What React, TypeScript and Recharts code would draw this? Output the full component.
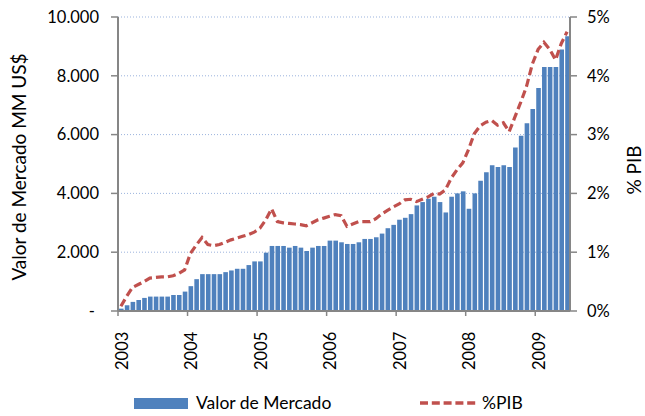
import React from 'react';
import { ComposedChart, Bar, Line, XAxis, YAxis, CartesianGrid, Legend } from 'recharts';

const years = ['2003', '2004', '2005', '2006', '2007', '2008', '2009'];
const monthNames = ['01', '02', '03', '04', '05', '06', '07', '08', '09', '10', '11', '12'];

const valorMercado = [
  // 2003
  80, 195, 310, 375, 445, 490, 490, 490, 490, 545, 545, 660,
  // 2004
  845, 1083, 1254, 1254, 1254, 1254, 1322, 1379, 1436, 1436, 1562, 1687,
  // 2005
  1687, 1984, 2212, 2212, 2212, 2155, 2212, 2155, 2041, 2155, 2212, 2212,
  // 2006
  2394, 2394, 2337, 2280, 2280, 2337, 2451, 2451, 2508, 2633, 2816, 2930,
  // 2007
  3105, 3170, 3295, 3591, 3705, 3819, 3887, 3705, 3352, 3887, 4001, 4070,
  // 2008
  3477, 4001, 4430, 4720, 4959, 4902, 4959, 4902, 5564, 5961, 6385, 6874,
  // 2009
  7582, 8300, 8300, 8300, 8892, 9347,
];

const pibPct = [
  // 2003
  0.08, 0.25, 0.4, 0.45, 0.5, 0.56, 0.57, 0.58, 0.58, 0.6, 0.64, 0.7,
  // 2004
  0.98, 1.12, 1.25, 1.13, 1.11, 1.13, 1.17, 1.21, 1.24, 1.27, 1.3, 1.34,
  // 2005
  1.41, 1.55, 1.74, 1.52, 1.5, 1.49, 1.48, 1.47, 1.45, 1.5, 1.55, 1.58,
  // 2006
  1.61, 1.64, 1.62, 1.44, 1.48, 1.52, 1.52, 1.52, 1.57, 1.65, 1.71, 1.77,
  // 2007
  1.82, 1.89, 1.9, 1.86, 1.9, 1.94, 2.0, 1.99, 2.06, 2.26, 2.4, 2.52,
  // 2008
  2.75, 3.02, 3.15, 3.21, 3.24, 3.16, 3.2, 3.05, 3.3, 3.55, 3.82, 4.2,
  // 2009
  4.45, 4.57, 4.45, 4.27, 4.55, 4.75,
];

const leftTicks = [0, 2000, 4000, 6000, 8000, 10000];
const rightTicks = [0, 1, 2, 3, 4, 5];
const yearTickPositions = years.map((_, i) => i * 12);
const totalMonths = 78;

const SERIES_BAR = 'Valor de Mercado';
const SERIES_LINE = '%PIB';
const BAR_COLOR = '#4F81BD';
const LINE_COLOR = '#C0504D';
const AXIS_COLOR = '#868686';
const FONT = 'Lato, "Open Sans", sans-serif';

const data = valorMercado.map((v, i) => ({
  t: i + 0.5,
  month: `${years[Math.floor(i / 12)]}-${monthNames[i % 12]}`,
  valor: v,
  pib: pibPct[i],
}));

const formatThousands = (v: number) =>
  v === 0 ? '-\u00A0' : String(v).replace(/\B(?=(\d{3})+(?!\d))/g, '.');

const YearTick = (props: any) => {
  const { x, y, payload } = props;
  const label = years[Math.round(payload.value / 12)];
  return (
    <g transform={`translate(${x},${y})`}>
      <text
        transform="rotate(-90)"
        x={-15.7}
        y={9.5}
        textAnchor="end"
        fill="#000"
        fontSize={16.5}
        fontFamily={FONT}
      >
        {label}
      </text>
    </g>
  );
};

const LegendContent = () => (
  <div style={{ position: 'relative', width: 645, height: 38, fontFamily: FONT, fontSize: 17.5, color: '#000' }}>
    <div style={{ position: 'absolute', left: 134, top: 19.5, width: 54, height: 11, background: BAR_COLOR }} />
    <div style={{ position: 'absolute', left: 196, top: 15, height: 20, display: 'flex', alignItems: 'center', lineHeight: 1, whiteSpace: 'nowrap' }}>
      {SERIES_BAR}
    </div>
    <svg style={{ position: 'absolute', left: 420, top: 22 }} width={58} height={6}>
      <line x1={0} y1={3} x2={58} y2={3} stroke={LINE_COLOR} strokeWidth={3.4} strokeDasharray="8 3.8" />
    </svg>
    <div style={{ position: 'absolute', left: 482, top: 15, height: 20, display: 'flex', alignItems: 'center', lineHeight: 1, whiteSpace: 'nowrap' }}>
      {SERIES_LINE}
    </div>
  </div>
);

export default function App() {
  return (
    <div style={{ position: 'absolute', left: 0, top: 0, width: 645, height: 416, background: '#fff' }}>
      <ComposedChart
        width={645}
        height={416}
        data={data}
        margin={{ top: 17, right: 0, bottom: 0, left: 0 }}
      >
        <CartesianGrid vertical={false} stroke="#9BB3DD" strokeDasharray="1 2" />
        <XAxis
          type="number"
          dataKey="t"
          domain={[0, totalMonths]}
          ticks={yearTickPositions}
          allowDataOverflow
          height={67}
          tickSize={5}
          tickMargin={0}
          tick={<YearTick />}
          axisLine={{ stroke: AXIS_COLOR, strokeWidth: 2 }}
          tickLine={{ stroke: AXIS_COLOR, strokeWidth: 1.5 }}
        />
        <YAxis
          domain={[0, 10000]}
          ticks={leftTicks}
          width={118}
          tickSize={7}
          tickMargin={12}
          tickFormatter={formatThousands}
          tick={{ fill: '#000', fontSize: 16.5, fontFamily: FONT }}
          axisLine={{ stroke: AXIS_COLOR, strokeWidth: 2 }}
          tickLine={{ stroke: AXIS_COLOR, strokeWidth: 1.5 }}
          label={{
            value: 'Valor de Mercado MM US$',
            angle: -90,
            position: 'insideLeft',
            offset: 19,
            dy: 3,
            style: { textAnchor: 'middle', fontSize: 19, fontFamily: FONT, fill: '#000' },
          }}
        />
        <YAxis
          yAxisId="right"
          orientation="right"
          domain={[0, 5]}
          ticks={rightTicks}
          width={75}
          tickSize={7}
          tickMargin={10}
          tickFormatter={(v: number) => `${v}%`}
          tick={{ fill: '#000', fontSize: 16.5, fontFamily: FONT, textAnchor: 'start' }}
          axisLine={{ stroke: AXIS_COLOR, strokeWidth: 2 }}
          tickLine={{ stroke: AXIS_COLOR, strokeWidth: 1.5 }}
          label={{
            value: '% PIB',
            angle: -90,
            position: 'insideRight',
            offset: 11,
            dy: 6,
            style: { textAnchor: 'middle', fontSize: 19, fontFamily: FONT, fill: '#000' },
          }}
        />
        <Bar dataKey="valor" name={SERIES_BAR} fill={BAR_COLOR} barSize={4.6} isAnimationActive={false} />
        <Line
          yAxisId="right"
          dataKey="pib"
          name={SERIES_LINE}
          type="linear"
          stroke={LINE_COLOR}
          strokeWidth={3.2}
          strokeDasharray="8 4"
          dot={false}
          activeDot={false}
          isAnimationActive={false}
        />
        <Legend
          verticalAlign="bottom"
          content={<LegendContent />}
          wrapperStyle={{ left: 0, bottom: 0, width: 645, height: 38 }}
        />
      </ComposedChart>
    </div>
  );
}
